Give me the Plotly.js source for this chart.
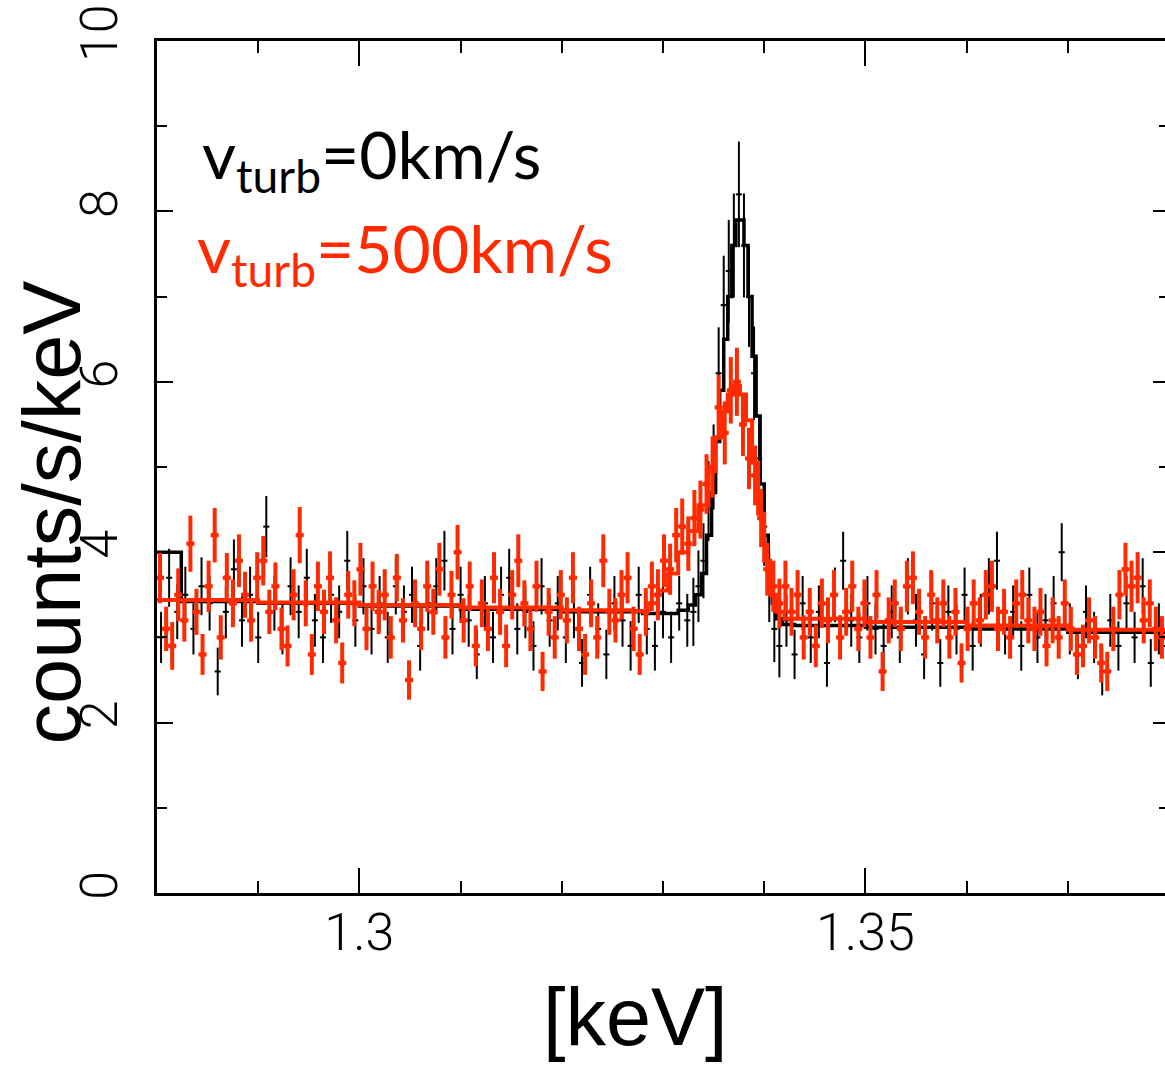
<!DOCTYPE html>
<html>
<head>
<meta charset="utf-8">
<script src="https://cdn.plot.ly/plotly-3.0.1.min.js"></script>
<style>
html,body{margin:0;padding:0;overflow:hidden;background:#fff;}
#chart{width:1172px;height:1066px;}
</style>
</head>
<body>
<div id="chart"></div>
<script>
// ---- tick labels ----
const xTickVals = [1.3, 1.35];
const xTickText = ['1.3', '1.35'];
const yTickVals = [0, 2, 4, 6, 8, 10];
const yTickText = ['0', '2', '4', '6', '8', '10'];

// ---- labels ----
const xTitle = '[keV]';
const yTitle = 'counts/s/keV';
const labelBlack = 'v<sub>turb</sub>=0km/s';
const labelRed = 'v<sub>turb</sub>=500km/s';

// ---- v_turb = 0 km/s data (black) ----
const blackEnergy = [
1.2804,1.2812,1.2820,1.2828,1.2836,1.2844,1.2852,1.2860,1.2868,1.2876,
1.2884,1.2892,1.2900,1.2908,1.2916,1.2924,1.2932,1.2940,1.2948,1.2956,
1.2964,1.2972,1.2980,1.2988,1.2996,1.3004,1.3012,1.3020,1.3028,1.3036,
1.3044,1.3052,1.3060,1.3068,1.3076,1.3084,1.3092,1.3100,1.3108,1.3116,
1.3124,1.3132,1.3140,1.3148,1.3156,1.3164,1.3172,1.3180,1.3188,1.3196,
1.3204,1.3212,1.3220,1.3228,1.3236,1.3244,1.3252,1.3260,1.3268,1.3276,
1.3284,1.3292,1.3300,1.3308,1.3316,1.3324,
1.3330,1.3335,1.3340,1.3345,1.3350,1.3355,1.3360,1.3365,1.3370,1.3375,
1.3380,1.3385,1.3390,1.3395,1.3400,1.3405,1.3410,1.3415,
1.3422,1.3430,1.3438,1.3446,1.3454,1.3462,1.3470,1.3478,1.3486,1.3494,
1.3502,1.3510,1.3518,1.3526,1.3534,1.3542,1.3550,1.3558,1.3566,1.3574,
1.3582,1.3590,1.3598,1.3606,1.3614,1.3622,1.3630,1.3638,1.3646,1.3654,
1.3662,1.3670,1.3678,1.3686,1.3694,1.3702,1.3710,1.3718,1.3726,1.3734,
1.3742,1.3750,1.3758,1.3766,1.3774,1.3782,1.3790,1.3798];
const blackCounts = [
3.0,3.7,3.3,3.5,3.1,3.6,3.4,2.6,3.3,3.8,
3.2,3.5,3.0,4.3,3.4,3.1,3.6,3.3,3.7,3.2,
3.0,3.5,3.3,3.9,3.2,3.6,3.1,3.4,3.0,3.6,
3.3,3.5,2.9,3.4,3.6,3.9,3.1,3.5,3.2,2.8,
3.4,3.0,3.5,3.7,3.1,3.3,2.9,3.6,3.2,3.4,
3.0,3.3,2.7,3.5,3.1,2.8,3.4,3.2,2.9,3.5,
3.1,2.9,3.3,3.0,3.4,3.2,
3.3,3.6,3.9,4.6,5.0,6.1,6.9,7.3,7.6,8.2,
7.6,7.0,6.1,5.1,4.3,3.6,3.1,2.9,
3.2,2.8,3.4,3.0,3.3,2.7,3.5,3.9,3.2,3.0,
3.4,3.1,2.9,3.3,3.0,3.6,3.2,2.8,3.4,2.7,
3.3,3.1,3.5,2.9,3.2,3.6,3.9,3.1,3.3,2.9,
3.5,3.0,3.2,3.4,4.0,3.1,2.8,3.3,3.0,2.6,
3.2,2.9,3.4,3.0,3.6,2.7,3.1,2.9];
const blackError = [
0.30,0.34,0.32,0.33,0.30,0.34,0.32,0.28,0.31,0.35,
0.31,0.33,0.30,0.36,0.32,0.30,0.34,0.31,0.34,0.31,
0.30,0.33,0.31,0.35,0.31,0.33,0.30,0.32,0.30,0.33,
0.31,0.33,0.29,0.32,0.33,0.35,0.30,0.33,0.31,0.29,
0.32,0.30,0.33,0.34,0.30,0.31,0.29,0.33,0.31,0.32,
0.30,0.31,0.28,0.33,0.30,0.29,0.32,0.31,0.29,0.33,
0.30,0.29,0.31,0.30,0.32,0.31,
0.40,0.42,0.44,0.47,0.50,0.54,0.58,0.60,0.61,0.62,
0.61,0.59,0.55,0.50,0.46,0.42,0.39,0.37,
0.31,0.29,0.32,0.30,0.31,0.28,0.32,0.34,0.31,0.30,
0.32,0.30,0.29,0.31,0.30,0.33,0.31,0.29,0.32,0.28,
0.31,0.30,0.32,0.29,0.31,0.33,0.34,0.30,0.31,0.29,
0.32,0.30,0.31,0.32,0.34,0.30,0.29,0.31,0.30,0.28,
0.31,0.29,0.32,0.30,0.33,0.28,0.30,0.29];

// ---- v_turb = 500 km/s data (red) ----
const redEnergy = [
1.2803,1.2809,1.2815,1.2821,1.2827,1.2833,1.2839,1.2845,1.2851,1.2857,
1.2863,1.2869,1.2875,1.2881,1.2887,1.2893,1.2899,1.2905,1.2911,1.2917,
1.2923,1.2929,1.2935,1.2941,1.2947,1.2953,1.2959,1.2965,1.2971,1.2977,
1.2983,1.2989,1.2995,1.3001,1.3007,1.3013,1.3019,1.3025,1.3031,1.3037,
1.3043,1.3049,1.3055,1.3061,1.3067,1.3073,1.3079,1.3085,1.3091,1.3097,
1.3103,1.3109,1.3115,1.3121,1.3127,1.3133,1.3139,1.3145,1.3151,1.3157,
1.3163,1.3169,1.3175,1.3181,1.3187,1.3193,1.3199,1.3205,1.3211,1.3217,
1.3223,1.3229,1.3235,1.3241,1.3247,1.3253,1.3259,1.3265,1.3271,1.3277,
1.3283,1.3289,1.3295,1.3301,1.3307,1.3313,1.3319,1.3325,1.3331,1.3337,
1.3343,1.3349,1.3355,1.3361,1.3367,1.3373,1.3379,1.3385,1.3391,1.3397,
1.3403,1.3409,1.3415,1.3421,1.3427,1.3433,1.3439,1.3445,1.3451,1.3457,
1.3463,1.3469,1.3475,1.3481,1.3487,1.3493,1.3499,1.3505,1.3511,1.3517,
1.3523,1.3529,1.3535,1.3541,1.3547,1.3553,1.3559,1.3565,1.3571,1.3577,
1.3583,1.3589,1.3595,1.3601,1.3607,1.3613,1.3619,1.3625,1.3631,1.3637,
1.3643,1.3649,1.3655,1.3661,1.3667,1.3673,1.3679,1.3685,1.3691,1.3697,
1.3703,1.3709,1.3715,1.3721,1.3727,1.3733,1.3739,1.3745,1.3751,1.3757,
1.3763,1.3769,1.3775,1.3781,1.3787,1.3793];
const redCounts = [
3.7,3.1,2.9,3.5,3.2,4.1,3.3,2.8,3.6,4.2,
3.0,3.7,3.4,3.9,3.5,3.2,3.7,3.9,3.3,3.6,
3.1,2.9,3.5,4.2,3.4,2.8,3.6,3.3,3.7,3.2,
2.7,3.5,3.4,3.8,3.1,3.6,3.3,3.5,3.0,3.7,
3.2,2.5,3.4,3.1,3.6,3.3,3.8,3.0,3.5,4.0,
3.2,3.6,2.9,3.4,3.1,3.7,3.3,2.9,3.5,3.9,
3.4,3.1,3.6,2.6,3.3,3.0,3.5,3.2,3.7,3.1,
2.8,3.4,3.0,3.9,3.3,3.2,3.5,3.7,3.1,2.8,
3.3,3.6,3.5,3.9,3.8,4.2,4.3,4.1,4.4,4.5,
4.8,5.0,5.7,5.4,5.9,6.0,5.5,5.1,4.9,4.4,
3.8,3.6,3.4,3.6,3.3,3.5,3.0,3.3,2.9,3.4,
3.2,3.5,3.0,3.3,3.6,3.1,3.4,3.0,3.5,2.6,
3.2,3.4,3.1,3.6,3.7,3.3,3.0,3.5,3.2,3.4,
3.0,3.3,2.7,3.1,3.4,3.2,3.5,3.6,3.1,3.3,
3.0,3.4,3.5,3.2,3.1,3.3,2.9,3.2,3.0,3.4,
3.1,2.8,2.9,3.2,3.0,2.7,2.6,3.1,3.5,3.8,
3.6,3.7,3.2,3.4,3.1,3.0];
const redError = [
0.30,0.26,0.28,0.31,0.25,0.33,0.27,0.24,0.30,0.32,
0.26,0.29,0.28,0.31,0.27,0.25,0.30,0.29,0.26,0.28,
0.25,0.24,0.30,0.33,0.27,0.24,0.29,0.26,0.31,0.27,
0.24,0.28,0.27,0.31,0.25,0.29,0.26,0.30,0.25,0.28,
0.26,0.23,0.28,0.25,0.30,0.27,0.31,0.25,0.28,0.32,
0.26,0.29,0.24,0.28,0.26,0.30,0.27,0.25,0.29,0.31,
0.27,0.26,0.30,0.23,0.28,0.25,0.29,0.27,0.30,0.26,
0.24,0.28,0.25,0.31,0.27,0.26,0.29,0.30,0.26,0.24,
0.28,0.29,0.30,0.31,0.30,0.32,0.33,0.32,0.33,0.34,
0.35,0.36,0.38,0.37,0.39,0.40,0.37,0.36,0.35,0.34,
0.31,0.30,0.29,0.30,0.28,0.29,0.26,0.28,0.25,0.29,
0.27,0.29,0.26,0.28,0.30,0.26,0.28,0.25,0.29,0.23,
0.27,0.28,0.26,0.30,0.31,0.27,0.25,0.29,0.27,0.28,
0.25,0.28,0.23,0.26,0.28,0.27,0.29,0.30,0.26,0.27,
0.25,0.28,0.29,0.27,0.26,0.28,0.24,0.27,0.25,0.28,
0.26,0.24,0.25,0.27,0.25,0.23,0.23,0.26,0.29,0.31,
0.30,0.30,0.27,0.28,0.26,0.25];

// ---- folded models (histogram steps, left bin edges) ----
const blackModelEnergy = [1.2800,1.2824,1.2900,1.3000,1.3100,1.3200,1.3280,1.3315,1.3325,1.3332,
1.3338,1.3343,1.3348,1.3352,1.3356,1.3360,1.3364,1.3368,1.3372,1.3380,
1.3384,1.3388,1.3392,1.3396,1.3400,1.3404,1.3408,1.3412,1.3418,1.3430,
1.3500,1.3600,1.3700,1.3800];
const blackModel = [4.0,3.42,3.40,3.37,3.33,3.30,3.28,3.32,3.38,3.5,
3.75,4.2,4.7,5.3,5.9,6.5,7.0,7.6,7.9,7.6,
7.0,6.3,5.6,4.8,4.2,3.7,3.4,3.22,3.15,3.14,
3.12,3.10,3.06,3.03];
const redModelEnergy = [1.2800,1.2900,1.3000,1.3100,1.3200,1.3270,1.3285,1.3295,1.3305,1.3315,
1.3325,1.3335,1.3345,1.3352,1.3358,1.3364,1.3370,1.3376,1.3382,1.3388,
1.3394,1.3400,1.3406,1.3412,1.3420,1.3500,1.3600,1.3700,1.3800];
const redModel = [3.44,3.41,3.38,3.35,3.32,3.31,3.4,3.55,3.75,4.0,
4.25,4.55,4.95,5.35,5.65,5.85,5.95,5.85,5.55,5.05,
4.45,3.9,3.5,3.3,3.22,3.18,3.14,3.09,3.05];

const RED = '#ff2a00';
const BLACK = '#000000';

const traces = [
  {x: blackEnergy, y: blackCounts, type: 'scatter', mode: 'markers',
   marker: {size: 2, color: BLACK},
   error_y: {type: 'data', array: blackError, visible: true, color: BLACK, thickness: 2, width: 0},
   error_x: {type: 'constant', value: 0.0003, visible: true, color: BLACK, thickness: 2, width: 0}},
  {x: blackModelEnergy, y: blackModel, type: 'scatter', mode: 'lines',
   line: {shape: 'hv', color: BLACK, width: 3.5}},
  {x: redEnergy, y: redCounts, type: 'scatter', mode: 'markers',
   marker: {size: 5, color: RED, symbol: 'square'},
   error_y: {type: 'data', array: redError, visible: true, color: RED, thickness: 4, width: 0},
   error_x: {type: 'constant', value: 0.0004, visible: true, color: RED, thickness: 4, width: 0}},
  {x: redModelEnergy, y: redModel, type: 'scatter', mode: 'lines',
   line: {shape: 'hv', color: RED, width: 4}}
];

const tickFont = {family: 'Roboto, Liberation Sans, sans-serif', size: 52, weight: 300, color: BLACK};
const titleFont = {family: 'Liberation Sans, Arial, sans-serif', size: 81, color: BLACK};
const annFont = {family: 'Lato, Open Sans, sans-serif', size: 66};

const layout = {
  width: 1172, height: 1066,
  margin: {l: 157, r: 3, t: 41, b: 173, pad: 0},
  paper_bgcolor: '#ffffff', plot_bgcolor: '#ffffff',
  showlegend: false,
  xaxis: {
    range: [1.28, 1.38], showline: true, linewidth: 3, linecolor: BLACK, mirror: 'ticks',
    ticks: 'inside', ticklen: 25, tickwidth: 2, tickcolor: BLACK,
    tickmode: 'array', tickvals: xTickVals, ticktext: xTickText, ticklabelstandoff: -8,
    minor: {tickmode: 'linear', tick0: 1.28, dtick: 0.01, ticks: 'inside', ticklen: 12, tickwidth: 2, tickcolor: BLACK, showgrid: false},
    showgrid: false, zeroline: false, tickfont: tickFont
  },
  yaxis: {
    range: [0, 10], showline: true, linewidth: 3, linecolor: BLACK, mirror: 'ticks',
    ticks: 'inside', ticklen: 16, tickwidth: 2, tickcolor: BLACK,
    tickmode: 'array', tickvals: yTickVals, ticktext: yTickText, tickangle: -90, ticklabelstandoff: 16,
    minor: {tickmode: 'linear', tick0: 0, dtick: 1, ticks: 'inside', ticklen: 10, tickwidth: 2, tickcolor: BLACK, showgrid: false},
    showgrid: false, zeroline: false, tickfont: tickFont
  },
  annotations: [
    {xref: 'paper', yref: 'paper', x: 0.4733, y: -0.146, xanchor: 'center', yanchor: 'middle',
     text: xTitle, showarrow: false, font: titleFont},
    {xref: 'paper', yref: 'paper', x: -0.1035, y: 0.447, xanchor: 'center', yanchor: 'middle',
     text: yTitle, textangle: -90, showarrow: false, font: titleFont},
    {xref: 'paper', yref: 'paper', x: 0.0425, y: 0.862, xanchor: 'left', yanchor: 'middle',
     text: labelBlack, showarrow: false, font: Object.assign({}, annFont, {color: BLACK})},
    {xref: 'paper', yref: 'paper', x: 0.0375, y: 0.752, xanchor: 'left', yanchor: 'middle',
     text: labelRed, showarrow: false, font: Object.assign({}, annFont, {color: RED})}
  ]
};

Plotly.newPlot('chart', traces, layout, {displayModeBar: false, staticPlot: true});
</script>
</body>
</html>
